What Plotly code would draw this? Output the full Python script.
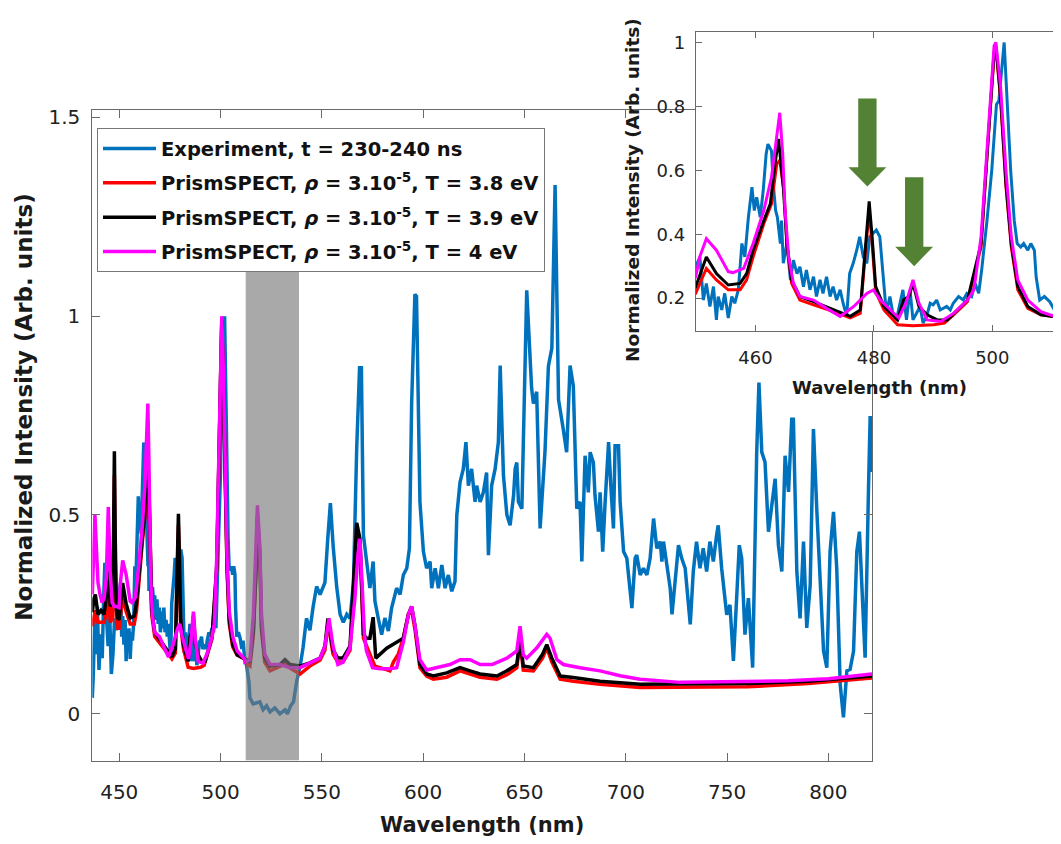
import plotly.graph_objects as go

# ---------------- data ----------------
exp_wl = [436.7, 437.2, 437.9, 438.6, 439.2, 440.0, 440.8, 441.6, 442.3, 442.9, 443.6, 444.5, 445.3, 446.1,
          446.9, 447.7, 448.5, 449.3, 449.9, 450.6, 451.2, 451.7, 452.3, 452.9, 453.4, 453.7, 454.3, 454.8,
          455.4, 456.0, 456.5, 457.1, 457.7, 458.2, 458.8, 459.4, 459.8, 460.2, 460.8, 461.3, 461.8, 462.1,
          462.7, 463.0, 463.4, 463.7, 464.2, 464.4, 464.7, 465.3, 465.9, 466.4, 467.0, 467.5, 468.1, 468.6,
          469.2, 469.8, 470.3, 470.9, 471.4, 472.0, 472.6, 473.1, 473.7, 474.3, 474.8, 475.4, 475.9, 476.5,
          477.1, 477.6, 478.2, 478.8, 479.3, 479.9, 480.4, 481.0, 481.6, 482.1, 482.7, 483.2, 483.8, 484.4,
          484.9, 485.5, 486.1, 486.6, 487.2, 487.8, 488.3, 488.9, 489.5, 490.0, 490.6, 491.2, 492.3, 492.9,
          493.4, 494.3, 495.1, 495.7, 496.5, 497.1, 497.7, 498.2, 499.1, 499.9, 500.7, 501.1, 502.0, 502.5,
          503.1, 503.7, 504.2, 504.8, 505.3, 506.0, 506.5, 507.1, 507.4, 508.0, 508.8, 509.7, 510.5, 511.1,
          511.8, 512.9, 514.0, 514.5, 516.1, 519.4, 521.0, 522.7, 524.4, 526.8, 529.3, 531.8, 533.0, 534.6,
          536.0, 537.5, 539.4, 540.7, 542.4, 544.1, 545.7, 547.4, 549.1, 551.5, 552.9, 554.2, 555.6, 557.3,
          559.0, 560.6, 562.3, 563.9, 565.6, 567.2, 568.6, 569.5, 570.5, 572.0, 573.7, 575.3, 576.2, 577.8,
          579.5, 581.1, 582.8, 584.4, 585.3, 586.9, 588.6, 590.2, 591.9, 593.2, 594.3, 595.3, 595.9, 596.7,
          597.4, 598.4, 600.1, 601.7, 603.4, 604.2, 605.9, 607.5, 609.2, 610.8, 612.4, 614.1, 615.7, 616.6,
          618.2, 619.8, 621.1, 622.3, 623.9, 625.6, 626.4, 628.1, 629.7, 631.3, 632.2, 633.8, 635.5, 637.1,
          638.0, 639.6, 641.3, 642.9, 644.6, 645.4, 646.2, 647.0, 648.7, 651.1, 653.5, 654.4, 656.0, 657.7,
          660.1, 661.8, 663.5, 665.1, 666.8, 667.5, 669.0, 670.8, 672.5, 674.1, 675.0, 675.8, 677.4, 678.3,
          679.9, 681.5, 682.4, 684.0, 684.8, 686.0, 686.5, 687.3, 688.6, 689.8, 691.5, 692.6, 693.9, 694.7,
          696.4, 697.2, 698.9, 700.5, 702.1, 703.0, 704.6, 705.4, 707.1, 708.7, 710.4, 712.0, 713.7, 715.3,
          717.0, 717.8, 718.6, 720.3, 721.9, 722.8, 724.4, 726.0, 727.6, 729.3, 731.8, 733.3, 734.9, 736.6,
          738.2, 739.9, 741.5, 743.2, 744.8, 745.6, 747.3, 748.9, 749.8, 751.4, 753.1, 754.7, 756.0, 757.2,
          758.8, 760.5, 762.6, 764.6, 765.7, 767.1, 768.7, 770.4, 772.0, 773.7, 775.3, 777.0, 778.6, 780.3,
          781.9, 782.7, 784.4, 786.0, 787.7, 789.3, 791.0, 792.6, 794.3, 795.9, 797.6, 799.2, 800.8, 802.5,
          804.1, 805.8, 807.4, 809.1, 810.7, 812.4, 814.0, 815.3, 816.5, 818.1, 819.8, 820.6, 821.4]
exp_int = [0.04, 0.10, 0.24, 0.15, 0.27, 0.11, 0.20, 0.14, 0.29, 0.38, 0.25, 0.17, 0.25, 0.10,
           0.15, 0.24, 0.21, 0.27, 0.298, 0.329, 0.194, 0.246, 0.174, 0.236, 0.132, 0.205, 0.163, 0.215,
           0.138, 0.205, 0.184, 0.226, 0.371, 0.329, 0.453, 0.547, 0.474, 0.516, 0.453, 0.536, 0.651, 0.682,
           0.661, 0.557, 0.474, 0.453, 0.371, 0.443, 0.309, 0.371, 0.257, 0.319, 0.277, 0.298, 0.236, 0.288,
           0.226, 0.267, 0.205, 0.257, 0.215, 0.267, 0.205, 0.236, 0.194, 0.226, 0.184, 0.143, 0.277, 0.309,
           0.350, 0.392, 0.329, 0.309, 0.392, 0.402, 0.413, 0.392, 0.267, 0.153, 0.205, 0.153, 0.132, 0.184,
           0.226, 0.132, 0.226, 0.132, 0.153, 0.174, 0.122, 0.143, 0.184, 0.179, 0.194, 0.163, 0.174, 0.163,
           0.184, 0.205, 0.194, 0.215, 0.205, 0.246, 0.215, 0.288, 0.443, 0.599, 0.806, 0.817, 1.0, 0.806,
           0.599, 0.443, 0.371, 0.360, 0.371, 0.350, 0.371, 0.350, 0.267, 0.194, 0.205, 0.189, 0.163, 0.184,
           0.143, 0.12, 0.08, 0.04, 0.025, 0.03, 0.01, 0.02, 0.005, 0.015, 0.0, 0.01, 0.0, 0.02,
           0.03, 0.08, 0.124, 0.166, 0.24, 0.21, 0.27, 0.32, 0.30, 0.33, 0.44, 0.53, 0.42, 0.32,
           0.25, 0.23, 0.25, 0.24, 0.33, 0.67, 0.87, 0.87, 0.449, 0.383, 0.316, 0.383, 0.283, 0.241,
           0.199, 0.241, 0.208, 0.266, 0.283, 0.316, 0.30, 0.349, 0.366, 0.416, 0.78, 1.0, 1.055, 1.05,
           0.85, 0.533, 0.408, 0.366, 0.383, 0.316, 0.366, 0.316, 0.374, 0.316, 0.349, 0.308, 0.333, 0.50,
           0.583, 0.616, 0.683, 0.574, 0.616, 0.533, 0.574, 0.533, 0.557, 0.607, 0.399, 0.574, 0.616, 0.683,
           0.876, 0.600, 0.50, 0.474, 0.549, 0.616, 0.632, 0.533, 0.516, 1.065, 0.82, 0.78, 0.81, 0.466,
           0.658, 0.874, 0.92, 1.33, 0.79, 0.77, 0.72, 0.658, 0.876, 0.824, 0.658, 0.516, 0.533, 0.383,
           0.649, 0.557, 0.658, 0.632, 0.549, 0.491, 0.458, 0.557, 0.408, 0.533, 0.683, 0.574, 0.466, 0.674,
           0.674, 0.533, 0.408, 0.391, 0.316, 0.266, 0.391, 0.399, 0.349, 0.366, 0.349, 0.391, 0.491, 0.416,
           0.433, 0.383, 0.433, 0.366, 0.316, 0.25, 0.349, 0.424, 0.391, 0.366, 0.225, 0.358, 0.433, 0.366,
           0.416, 0.358, 0.433, 0.383, 0.449, 0.474, 0.366, 0.291, 0.249, 0.274, 0.133, 0.291, 0.424, 0.391,
           0.199, 0.291, 0.116, 0.658, 0.833, 0.658, 0.633, 0.458, 0.524, 0.591, 0.424, 0.358, 0.649, 0.558,
           0.741, 0.741, 0.358, 0.24, 0.433, 0.216, 0.324, 0.716, 0.508, 0.324, 0.158, 0.116, 0.408, 0.508,
           0.366, 0.074, -0.009, 0.108, 0.112, 0.158, 0.408, 0.458, 0.324, 0.141, 0.574, 0.749, 0.608]

t38_wl = [436.7, 437.5, 438.2, 439.5, 441.0, 442.5, 443.5, 444.6, 445.6, 446.6, 447.2, 447.6, 448.0, 448.6,
          449.3, 449.9, 451.7, 453.4, 455.4, 457.4, 458.5, 459.6, 461.4, 462.7, 463.6, 464.1, 464.8, 465.3,
          466.1, 467.5, 469.8, 473.2, 476.0, 477.7, 478.5, 479.2, 479.7, 480.3, 481.7, 484.0, 486.6, 490.1,
          491.9, 493.5, 495.8, 498.1, 499.2, 500.3, 500.6, 501.4, 502.3, 503.2, 504.3, 506.0, 508.2, 511.8,
          512.9, 514.5, 516.2, 517.8, 518.2, 519.4, 520.2, 521.8, 524.4, 529.3, 531.8, 534.3, 539.2, 544.1,
          549.1, 551.5, 553.0, 555.5, 557.9, 560.4, 563.9, 565.6, 567.2, 568.8, 570.5, 573.7, 576.2, 579.5,
          583.6, 585.3, 587.7, 590.2, 592.7, 594.3, 596.0, 598.4, 601.7, 605.0, 611.6, 618.2, 628.1, 636.4,
          641.3, 646.2, 647.8, 649.4, 654.4, 658.9, 661.0, 663.5, 667.6, 674.1, 687.3, 707.1, 726.8, 760.0,
          790.0, 821.5]
t38_int = [0.22, 0.25, 0.26, 0.23, 0.23, 0.23, 0.25, 0.30, 0.23, 0.24, 0.40, 0.60, 0.40, 0.23,
           0.215, 0.215, 0.293, 0.257, 0.226, 0.226, 0.257, 0.329, 0.433, 0.495, 0.62, 0.632, 0.537, 0.371,
           0.246, 0.194, 0.179, 0.158, 0.138, 0.153, 0.33, 0.474, 0.371, 0.22, 0.163, 0.117, 0.114, 0.117,
           0.122, 0.148, 0.189, 0.36, 0.67, 0.96, 0.985, 0.82, 0.55, 0.36, 0.226, 0.168, 0.148, 0.138,
           0.125, 0.12, 0.20, 0.39, 0.49, 0.39, 0.21, 0.13, 0.108, 0.12, 0.125, 0.115, 0.10, 0.12,
           0.135, 0.16, 0.23, 0.15, 0.13, 0.13, 0.16, 0.31, 0.47, 0.43, 0.19, 0.15, 0.12, 0.115,
           0.108, 0.13, 0.15, 0.19, 0.25, 0.26, 0.21, 0.116, 0.095, 0.087, 0.092, 0.108, 0.092, 0.087,
           0.098, 0.116, 0.18, 0.11, 0.108, 0.14, 0.166, 0.13, 0.087, 0.082, 0.074, 0.066, 0.066, 0.068,
           0.076, 0.09]

t39_wl = [436.7, 437.5, 438.2, 439.5, 441.0, 442.5, 443.5, 444.6, 445.6, 446.6, 447.2, 447.6, 448.0, 448.6,
          449.3, 449.9, 451.7, 453.4, 455.4, 457.4, 458.5, 459.6, 461.4, 462.5, 463.3, 463.9, 464.7, 465.3,
          466.1, 467.5, 469.8, 473.2, 476.0, 477.7, 478.5, 479.2, 479.7, 480.3, 481.7, 484.0, 485.0, 485.9,
          486.6, 487.6, 489.0, 490.7, 492.4, 493.5, 495.8, 498.1, 499.2, 500.3, 500.6, 501.4, 502.3, 503.2,
          504.3, 506.0, 508.2, 510.5, 511.8, 512.9, 514.5, 516.2, 517.8, 518.2, 519.4, 520.2, 521.8, 524.4,
          529.3, 531.8, 534.3, 539.2, 544.1, 549.1, 551.5, 553.0, 555.5, 557.9, 560.4, 563.9, 565.6, 567.2,
          568.8, 570.5, 572.0, 573.7, 575.3, 576.6, 582.0, 590.2, 592.7, 594.3, 596.0, 598.4, 601.7, 605.0,
          611.6, 618.2, 623.1, 628.1, 636.4, 641.3, 646.2, 647.8, 649.4, 654.4, 658.9, 661.0, 663.5, 667.6,
          674.1, 687.3, 707.1, 726.8, 760.0, 790.0, 821.5]
t39_int = [0.255, 0.29, 0.30, 0.25, 0.26, 0.25, 0.29, 0.36, 0.27, 0.28, 0.45, 0.66, 0.45, 0.26,
           0.24, 0.236, 0.329, 0.277, 0.241, 0.246, 0.277, 0.35, 0.443, 0.495, 0.62, 0.698, 0.547, 0.371,
           0.257, 0.205, 0.189, 0.163, 0.143, 0.163, 0.34, 0.503, 0.392, 0.236, 0.174, 0.132, 0.194, 0.205,
           0.246, 0.174, 0.148, 0.132, 0.132, 0.153, 0.194, 0.371, 0.682, 0.97, 0.99, 0.83, 0.56, 0.371,
           0.236, 0.174, 0.148, 0.143, 0.138, 0.136, 0.13, 0.21, 0.40, 0.50, 0.40, 0.22, 0.14, 0.12,
           0.124, 0.136, 0.124, 0.12, 0.128, 0.14, 0.17, 0.24, 0.16, 0.14, 0.14, 0.17, 0.33, 0.48,
           0.44, 0.20, 0.19, 0.19, 0.243, 0.14, 0.165, 0.19, 0.25, 0.27, 0.22, 0.124, 0.10, 0.095,
           0.103, 0.116, 0.108, 0.10, 0.095, 0.108, 0.124, 0.19, 0.12, 0.116, 0.15, 0.174, 0.14, 0.095,
           0.091, 0.082, 0.074, 0.074, 0.076, 0.082, 0.095]

t40_wl = [436.7, 437.5, 438.0, 438.7, 439.5, 440.5, 441.5, 442.5, 443.6, 444.6, 445.5, 446.5, 447.5, 448.5,
          449.9, 450.6, 451.7, 453.4, 455.4, 456.2, 458.0, 459.6, 461.4, 462.7, 463.6, 464.1, 464.6, 465.0,
          465.6, 466.4, 467.5, 469.8, 472.0, 474.3, 476.6, 478.8, 479.9, 481.1, 482.8, 484.2, 485.4, 486.6,
          487.6, 489.0, 491.3, 493.5, 495.8, 496.9, 498.1, 499.2, 500.3, 500.6, 501.4, 502.3, 503.2, 504.3,
          506.0, 508.2, 510.5, 511.8, 512.0, 514.5, 516.2, 517.4, 518.2, 519.4, 520.2, 521.8, 524.4, 529.3,
          534.3, 539.2, 544.1, 549.1, 551.5, 553.5, 555.5, 557.9, 560.4, 563.9, 566.3, 567.8, 568.8, 570.0,
          571.0, 572.0, 575.0, 578.7, 583.6, 586.9, 590.2, 592.7, 594.3, 596.0, 598.4, 601.7, 606.0, 613.2,
          618.2, 623.1, 628.1, 634.0, 641.3, 646.2, 647.8, 649.4, 651.1, 656.1, 661.0, 662.6, 666.0, 669.2,
          677.4, 687.3, 697.2, 707.0, 726.8, 750.0, 780.0, 800.0, 821.5]
t40_int = [0.30, 0.45, 0.50, 0.42, 0.33, 0.30, 0.28, 0.29, 0.34, 0.52, 0.36, 0.28, 0.27, 0.27,
           0.267, 0.33, 0.386, 0.35, 0.283, 0.28, 0.293, 0.371, 0.474, 0.578, 0.703, 0.78, 0.65, 0.474,
           0.329, 0.246, 0.205, 0.194, 0.168, 0.143, 0.174, 0.215, 0.226, 0.194, 0.163, 0.138, 0.184, 0.257,
           0.184, 0.132, 0.127, 0.153, 0.194, 0.226, 0.392, 0.703, 0.99, 1.0, 0.86, 0.60, 0.392, 0.257,
           0.194, 0.158, 0.143, 0.138, 0.13, 0.135, 0.25, 0.42, 0.524, 0.42, 0.25, 0.15, 0.124, 0.124,
           0.116, 0.116, 0.128, 0.14, 0.17, 0.24, 0.17, 0.124, 0.13, 0.166, 0.29, 0.40, 0.44, 0.30,
           0.20, 0.158, 0.116, 0.113, 0.113, 0.116, 0.18, 0.25, 0.27, 0.22, 0.136, 0.11, 0.116, 0.124,
           0.136, 0.136, 0.124, 0.124, 0.14, 0.158, 0.22, 0.148, 0.14, 0.166, 0.20, 0.19, 0.136, 0.124,
           0.116, 0.108, 0.0955, 0.087, 0.079, 0.080, 0.083, 0.088, 0.100]

series_names = ["Experiment, t = 230-240 ns",
                "PrismSPECT, <i>ρ</i> = 3.10<sup>-5</sup>, T = 3.8 eV",
                "PrismSPECT, <i>ρ</i> = 3.10<sup>-5</sup>, T = 3.9 eV",
                "PrismSPECT, <i>ρ</i> = 3.10<sup>-5</sup>, T = 4 eV"]
series_colors = ["#0072BD", "#FF0000", "#000000", "#FF00FF"]

main_xticks = [450, 500, 550, 600, 650, 700, 750, 800]
main_yticks = [0, 0.5, 1, 1.5]
main_yticktext = ["0", "0.5", "1", "1.5"]
inset_xticks = [460, 480, 500]
inset_yticks = [0.2, 0.4, 0.6, 0.8, 1]
inset_yticktext = ["0.2", "0.4", "0.6", "0.8", "1"]

# masked (grey) wavelength band and arrow annotations in the inset
band_wl = [512.4, 538.7]
band_top = 1.115
arrow_wl = [478.9, 486.8]
arrow_top = [0.825, 0.578]
arrow_tip = [0.549, 0.300]

# ---------------- figure ----------------
OFF = 8                      # page body margin of the html page
W, H = 1061 - OFF, 844 - OFF
FONT = "DejaVu Sans"
AX = "#6a6a6a"

main_x = [436.7, 821.5]
main_y = [-0.1175, 1.5175]
inset_x = [449.9, 511.6]
inset_y = [0.096, 1.034]


def px(x):
    return (x - OFF) / W


def py(y):
    return 1 - (y - OFF) / H


xs = [exp_wl, t38_wl, t39_wl, t40_wl]
ys = [exp_int, t38_int, t39_int, t40_int]

fig = go.Figure()
for i in range(4):
    fig.add_trace(go.Scatter(x=xs[i], y=ys[i], mode="lines", name=series_names[i],
                             line=dict(color=series_colors[i], width=3.5),
                             legendgroup=f"g{i}", xaxis="x", yaxis="y"))
for i in range(4):
    fig.add_trace(go.Scatter(x=xs[i], y=ys[i], mode="lines", showlegend=False,
                             line=dict(color=series_colors[i], width=3),
                             xaxis="x2", yaxis="y2"))

shapes = [dict(type="rect", xref="x", yref="y", x0=band_wl[0], x1=band_wl[1],
               y0=main_y[0], y1=band_top, fillcolor="rgba(119,119,119,0.63)",
               line=dict(width=0), layer="above")]
for c, top, tip in zip(arrow_wl, arrow_top, arrow_tip):
    sw, hw = 1.55, 3.2
    hs = tip + (top - tip) * 0.22
    path = (f"M{c-sw},{top} L{c+sw},{top} L{c+sw},{hs} L{c+hw},{hs} "
            f"L{c},{tip} L{c-hw},{hs} L{c-sw},{hs} Z")
    shapes.append(dict(type="path", xref="x2", yref="y2", path=path,
                       fillcolor="#548235", line=dict(width=0), layer="above"))

annotations = [
    dict(text="<b>Wavelength (nm)</b>", x=px(482), y=py(825), xref="paper", yref="paper",
         xanchor="center", yanchor="middle", showarrow=False,
         font=dict(size=21, family=FONT, color="#1a1a1a")),
    dict(text="<b>Normalized Intensity (Arb. units)</b>", x=px(24), y=py(405), xref="paper",
         yref="paper", xanchor="center", yanchor="middle", showarrow=False, textangle=-90,
         font=dict(size=23, family=FONT, color="#1a1a1a")),
    dict(text="<b>Wavelength (nm)</b>", x=px(879), y=py(385), xref="paper", yref="paper",
         xanchor="center", yanchor="middle", showarrow=False,
         font=dict(size=18, family=FONT, color="#1a1a1a")),
    dict(text="<b>Normalized Intensity (Arb. units)</b>", x=px(633), y=py(186), xref="paper",
         yref="paper", xanchor="center", yanchor="middle", showarrow=False, textangle=-90,
         font=dict(size=18.5, family=FONT, color="#1a1a1a")),
]

fig.update_layout(
    width=W, height=H,
    margin=dict(l=0, r=0, t=0, b=0),
    paper_bgcolor="white", plot_bgcolor="white",
    font=dict(family=FONT, color="#1a1a1a"),
    showlegend=True,
    legend=dict(x=px(97), y=py(124), xanchor="left", yanchor="top",
                bgcolor="white", bordercolor="#777777", borderwidth=1,
                font=dict(size=19.5, family=FONT, color="#111111", weight="bold"),
                itemwidth=53, tracegroupgap=6),
    xaxis=dict(domain=[px(92.3), px(872)], range=main_x, tickvals=main_xticks,
               ticks="inside", ticklen=8, tickcolor=AX, showline=True, linecolor=AX,
               mirror="ticks", showgrid=False, zeroline=False,
               tickfont=dict(size=20, family=FONT, color="#222"), ticklabelstandoff=13),
    yaxis=dict(domain=[py(760), py(106)], range=main_y, tickvals=main_yticks,
               ticktext=main_yticktext, ticks="inside", ticklen=8, tickcolor=AX,
               showline=True, linecolor=AX, mirror="ticks", showgrid=False, zeroline=False,
               tickfont=dict(size=20, family=FONT, color="#222"), ticklabelstandoff=7),
    xaxis2=dict(domain=[px(695.7), 1.0], range=inset_x, tickvals=inset_xticks, anchor="y2",
                ticks="inside", ticklen=6, tickcolor=AX, showline=True, linecolor=AX,
                mirror="ticks", showgrid=False, zeroline=False,
                tickfont=dict(size=18, family=FONT, color="#222"), ticklabelstandoff=10),
    yaxis2=dict(domain=[py(328.3), py(26.7)], range=inset_y, tickvals=inset_yticks,
                ticktext=inset_yticktext, anchor="x2", ticks="inside", ticklen=6,
                tickcolor=AX, showline=True, linecolor=AX, mirror=False, showgrid=False,
                zeroline=False, tickfont=dict(size=18, family=FONT, color="#222"),
                ticklabelstandoff=6),
    shapes=shapes,
    annotations=annotations,
)

fig.write_html("out.html")
